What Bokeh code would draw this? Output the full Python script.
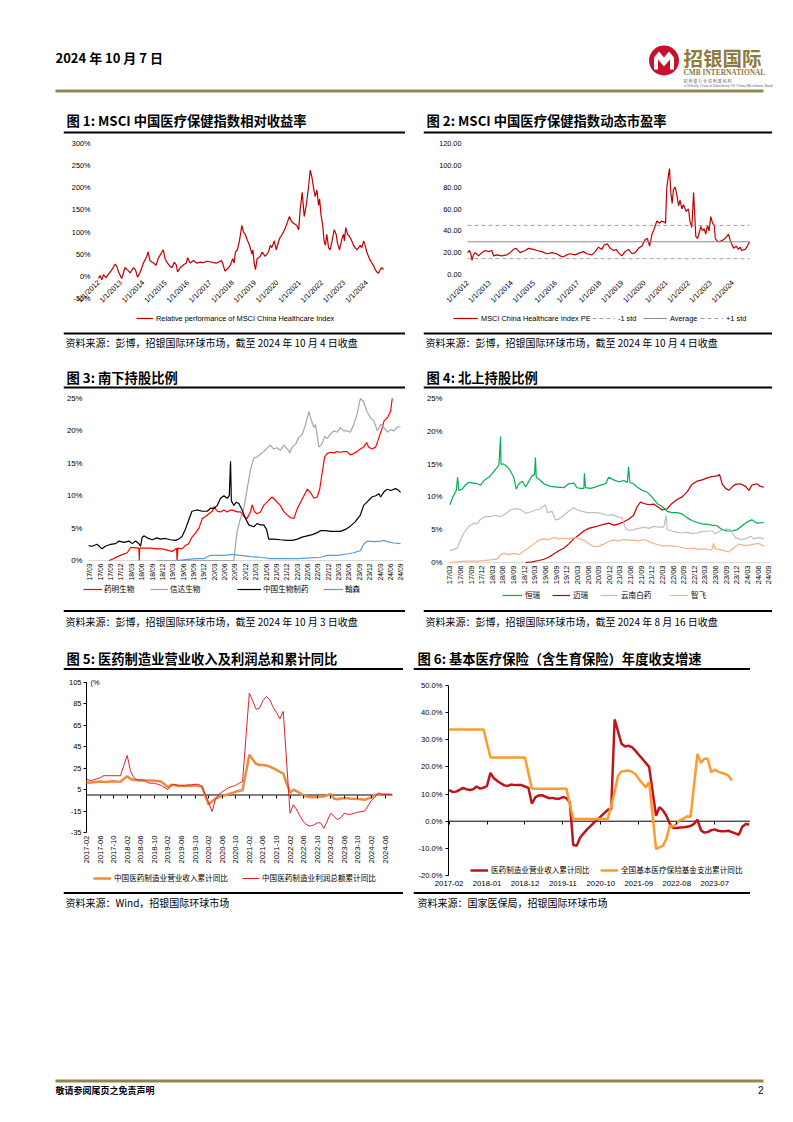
import math
from bokeh.plotting import figure
from bokeh.models import (Range1d, FixedTicker, PrintfTickFormatter, CustomJSTickFormatter,
                          LinearAxis, Legend, LegendItem, Label, Spacer)
from bokeh.layouts import column, row
from bokeh.core.properties import value
from bokeh.embed import file_html
from bokeh.resources import INLINE

CJK = "Noto Sans CJK SC"
LAT = "Liberation Sans"
GOLD = "#8E7A3C"
GOLD_RULE = "#8F8752"

# ---------------- texts ----------------
DATE_TEXT = "2024 年 10 月 7 日"
TITLES = ["图 1: MSCI 中国医疗保健指数相对收益率",
          "图 2: MSCI 中国医疗保健指数动态市盈率",
          "图 3: 南下持股比例",
          "图 4: 北上持股比例",
          "图 5: 医药制造业营业收入及利润总和累计同比",
          "图 6: 基本医疗保险（含生育保险）年度收支增速"]
SOURCES = ["资料来源：彭博，招银国际环球市场，截至 2024 年 10 月 4 日收盘",
           "资料来源：彭博，招银国际环球市场，截至 2024 年 10 月 4 日收盘",
           "资料来源：彭博，招银国际环球市场，截至 2024 年 10 月 3 日收盘",
           "资料来源：彭博，招银国际环球市场，截至 2024 年 8 月 16 日收盘",
           "资料来源：Wind，招银国际环球市场",
           "资料来源：国家医保局，招银国际环球市场"]
FOOTER_TEXT = "敬请参阅尾页之免责声明"
PAGE_NO = "2"

# ---------------- chart 1: relative performance (decimal year, %) ----------------
c1_label = "Relative performance of MSCI China Healthcare Index"
c1 = [(2012.00,-5),(2012.07,2),(2012.15,-8),(2012.22,4),(2012.34,-3),(2012.45,5),(2012.60,15),(2012.75,28),
      (2012.82,22),(2012.90,10),(2013.04,-5),(2013.19,20),(2013.31,14),(2013.42,8),(2013.57,20),(2013.66,14),
      (2013.75,-2),(2013.87,10),(2014.01,30),(2014.16,45),(2014.22,55),(2014.31,35),(2014.46,30),(2014.58,25),
      (2014.67,40),(2014.84,55),(2014.90,60),(2014.99,38),(2015.09,30),(2015.21,22),(2015.30,20),(2015.39,32),
      (2015.48,26),(2015.54,10),(2015.66,20),(2015.81,26),(2015.93,30),(2015.99,42),(2016.10,30),(2016.25,36),
      (2016.40,30),(2016.55,32),(2016.70,31),(2016.85,34),(2017.00,33),(2017.15,31),(2017.30,30),(2017.45,34),
      (2017.51,36),(2017.57,28),(2017.66,12),(2017.78,17),(2017.90,25),(2018.01,40),(2018.07,30),(2018.13,55),
      (2018.22,60),(2018.31,80),(2018.42,115),(2018.49,100),(2018.57,95),(2018.64,85),(2018.72,75),(2018.79,65),
      (2018.87,50),(2018.91,60),(2018.97,30),(2019.03,15),(2019.10,40),(2019.24,45),(2019.33,55),(2019.46,45),
      (2019.61,55),(2019.69,70),(2019.76,65),(2019.87,80),(2019.96,60),(2020.10,85),(2020.28,100),(2020.37,110),
      (2020.55,135),(2020.63,125),(2020.73,120),(2020.88,115),(2020.96,105),(2021.03,150),(2021.12,190),
      (2021.21,135),(2021.30,160),(2021.40,200),(2021.48,240),(2021.55,225),(2021.63,200),(2021.70,180),
      (2021.78,195),(2021.85,160),(2021.90,175),(2021.96,140),(2022.04,115),(2022.10,80),(2022.16,70),
      (2022.22,95),(2022.30,65),(2022.37,60),(2022.46,80),(2022.55,105),(2022.64,95),(2022.70,75),(2022.79,60),
      (2022.90,85),(2022.97,95),(2023.01,80),(2023.07,110),(2023.15,95),(2023.24,90),(2023.34,80),(2023.42,70),
      (2023.49,65),(2023.57,60),(2023.72,70),(2023.79,65),(2023.87,80),(2023.94,70),(2024.01,55),(2024.13,40),
      (2024.24,30),(2024.31,25),(2024.39,15),(2024.46,10),(2024.54,7),(2024.61,15),(2024.69,20),(2024.76,15)]
c1_yticks = [-50, 0, 50, 100, 150, 200, 250, 300]
c12_xticks = [2012, 2013, 2014, 2015, 2016, 2017, 2018, 2019, 2020, 2021, 2022, 2023, 2024]
c12_xlabels = ["1/1/2012", "1/1/2013", "1/1/2014", "1/1/2015", "1/1/2016", "1/1/2017", "1/1/2018",
               "1/1/2019", "1/1/2020", "1/1/2021", "1/1/2022", "1/1/2023", "1/1/2024"]

# ---------------- chart 2: forward PE ----------------
c2_labels = ["MSCI China Healthcare Index PE", "-1 std", "Average", "+1 std"]
c2 = [(2012.00,20),(2012.09,22),(2012.15,19),(2012.20,13),(2012.27,18),(2012.35,20),(2012.50,17),(2012.65,20),
      (2012.80,22),(2012.95,21),(2013.10,22),(2013.18,17),(2013.33,18),(2013.55,17),(2013.78,18),(2013.93,20),
      (2014.08,23),(2014.20,24),(2014.38,20),(2014.61,22),(2014.76,24),(2014.99,23),(2015.14,22),(2015.36,21),
      (2015.59,19),(2015.82,20),(2016.04,19),(2016.19,17),(2016.34,16),(2016.49,18),(2016.65,19),(2016.87,18),
      (2017.10,20),(2017.25,21),(2017.40,19),(2017.63,18),(2017.78,21),(2017.93,25),(2018.08,23),(2018.18,27),
      (2018.33,28),(2018.46,24),(2018.61,22),(2018.73,23),(2018.83,20),(2018.98,17),(2019.13,21),(2019.29,23),
      (2019.44,19),(2019.59,20),(2019.74,24),(2019.89,26),(2020.04,32),(2020.14,33),(2020.24,26),(2020.35,37),
      (2020.45,42),(2020.57,49),(2020.69,47),(2020.79,49),(2020.90,48),(2020.96,47),(2021.02,80),(2021.10,92),
      (2021.14,97),(2021.20,75),(2021.26,65),(2021.32,78),(2021.40,80),(2021.47,73),(2021.55,63),(2021.62,68),
      (2021.70,60),(2021.77,64),(2021.89,58),(2022.00,60),(2022.07,48),(2022.15,43),(2022.23,75),(2022.27,60),
      (2022.33,35),(2022.41,33),(2022.48,38),(2022.56,44),(2022.63,40),(2022.71,42),(2022.78,37),(2022.86,45),
      (2022.93,40),(2023.01,53),(2023.09,47),(2023.17,45),(2023.21,33),(2023.28,31),(2023.36,30),(2023.51,31),
      (2023.66,33),(2023.81,37),(2023.89,31),(2023.96,28),(2024.04,24),(2024.16,26),(2024.26,23),(2024.34,25),
      (2024.41,22),(2024.56,23),(2024.67,26),(2024.76,30)]
c2_avg = 30.0
c2_std_up = 45.0
c2_std_down = 14.5
c2_yticks = [0, 20, 40, 60, 80, 100, 120]

# ---------------- chart 3: southbound holdings (decimal year, %) ----------------
c3_names = ["药明生物", "信达生物", "中国生物制药", "翰森"]
c3_wuxi = [(2017.63,0.0),(2017.71,0.2),(2017.83,0.6),(2017.95,0.9),(2018.07,1.2),(2018.15,2.0),(2018.23,2.0),
           (2018.35,1.9),(2018.36,0.0),(2018.37,1.9),(2018.51,1.9),(2018.63,1.9),(2018.79,1.8),(2018.91,1.8),
           (2019.03,1.6),(2019.15,1.4),(2019.26,1.9),(2019.27,0.0),(2019.29,1.9),(2019.39,1.8),(2019.47,2.3),
           (2019.55,2.6),(2019.63,3.6),(2019.71,4.2),(2019.80,5.0),(2019.88,6.5),(2019.96,6.8),(2020.04,7.2),
           (2020.12,7.6),(2020.16,8.3),(2020.24,7.6),(2020.32,7.5),(2020.40,7.8),(2020.48,7.5),(2020.56,7.8),
           (2020.64,7.7),(2020.72,7.5),(2020.80,7.5),(2020.88,6.8),(2020.96,6.5),(2021.04,7.5),(2021.08,8.6),
           (2021.14,7.5),(2021.20,7.2),(2021.28,7.5),(2021.36,8.5),(2021.44,9.0),(2021.56,9.8),(2021.64,9.3),
           (2021.76,8.5),(2021.85,7.5),(2021.93,7.0),(2022.01,6.6),(2022.09,6.5),(2022.17,8.0),(2022.25,9.0),
           (2022.33,10.0),(2022.41,11.0),(2022.49,10.5),(2022.57,9.6),(2022.65,9.8),(2022.71,11.0),(2022.77,13.5),
           (2022.83,16.0),(2022.89,16.5),(2022.97,16.7),(2023.05,16.6),(2023.13,16.8),(2023.21,16.7),(2023.29,16.8),
           (2023.37,16.8),(2023.45,16.3),(2023.53,16.5),(2023.61,16.8),(2023.69,17.2),(2023.77,17.5),(2023.84,18.2),
           (2023.89,17.5),(2023.97,17.2),(2024.06,17.5),(2024.14,19.0),(2024.22,20.5),(2024.26,21.5),(2024.34,22.0),
           (2024.42,23.0),(2024.46,25.0)]
c3_innovent = [(2018.79,0.0),(2020.64,0.0),(2020.68,2.5),(2020.72,4.5),(2020.80,6.5),(2020.88,8.0),(2020.96,11.0),
               (2021.04,14.0),(2021.12,15.8),(2021.20,16.0),(2021.28,16.4),(2021.36,16.8),(2021.44,17.3),
               (2021.52,17.8),(2021.60,17.2),(2021.68,17.4),(2021.76,17.0),(2021.85,17.8),(2021.93,17.2),
               (2021.99,16.6),(2022.05,17.5),(2022.13,18.0),(2022.21,19.0),(2022.29,19.5),(2022.37,21.0),
               (2022.45,23.0),(2022.49,22.0),(2022.57,20.5),(2022.61,21.0),(2022.69,17.5),(2022.77,18.0),
               (2022.83,19.2),(2022.89,18.8),(2022.97,19.5),(2023.05,20.0),(2023.13,19.8),(2023.21,20.5),
               (2023.29,20.0),(2023.37,20.0),(2023.45,19.8),(2023.53,21.0),(2023.61,22.5),(2023.69,25.0),
               (2023.77,24.5),(2023.85,23.0),(2023.94,22.0),(2024.02,21.5),(2024.10,20.0),(2024.18,21.0),
               (2024.26,20.5),(2024.34,19.8),(2024.42,20.2),(2024.50,20.0),(2024.58,20.6),(2024.66,20.6)]
c3_sinobio = [(2017.14,2.3),(2017.22,2.2),(2017.34,2.5),(2017.46,1.8),(2017.54,2.2),(2017.67,2.5),(2017.79,2.6),
              (2017.87,3.0),(2017.99,2.8),(2018.11,3.0),(2018.19,2.6),(2018.27,3.0),(2018.35,2.6),(2018.39,2.2),
              (2018.43,3.6),(2018.48,3.8),(2018.55,3.5),(2018.67,3.2),(2018.79,3.5),(2018.87,3.3),(2018.99,3.4),
              (2019.11,3.2),(2019.23,3.1),(2019.31,3.3),(2019.39,3.7),(2019.47,4.8),(2019.55,6.2),(2019.63,7.6),
              (2019.75,7.8),(2019.88,7.6),(2020.00,7.6),(2020.08,8.1),(2020.16,8.0),(2020.24,8.5),(2020.32,9.6),
              (2020.40,10.0),(2020.48,9.6),(2020.53,10.0),(2020.56,15.3),(2020.58,9.2),(2020.64,8.5),(2020.70,9.0),
              (2020.76,8.8),(2020.84,7.8),(2020.92,6.5),(2021.00,5.5),(2021.12,5.2),(2021.20,5.7),(2021.28,5.5),
              (2021.36,5.5),(2021.43,4.8),(2021.48,3.3),(2021.60,3.3),(2021.76,3.2),(2021.93,3.1),(2022.05,3.1),
              (2022.17,3.3),(2022.29,3.6),(2022.41,3.8),(2022.53,4.0),(2022.65,4.3),(2022.73,4.6),(2022.85,4.6),
              (2022.97,4.5),(2023.09,4.5),(2023.21,4.5),(2023.33,4.8),(2023.45,5.3),(2023.57,6.0),(2023.69,7.0),
              (2023.77,8.5),(2023.85,9.0),(2023.97,9.8),(2024.06,10.0),(2024.14,10.3),(2024.18,9.8),(2024.26,10.6),
              (2024.34,11.0),(2024.42,10.8),(2024.54,11.1),(2024.62,10.8),(2024.66,10.5)]
c3_hansoh = [(2019.27,0.0),(2019.43,0.1),(2019.59,0.2),(2019.75,0.3),(2019.92,0.3),(2020.08,0.8),(2020.24,0.8),
             (2020.40,0.8),(2020.56,0.9),(2020.64,0.9),(2020.80,0.8),(2021.04,0.6),(2021.28,0.5),(2021.52,0.3),
             (2021.85,0.3),(2022.17,0.3),(2022.49,0.4),(2022.73,0.5),(2022.89,0.8),(2023.13,0.8),(2023.37,1.0),
             (2023.53,1.2),(2023.69,1.5),(2023.77,2.5),(2023.85,3.0),(2024.02,2.9),(2024.18,3.0),(2024.26,3.1),
             (2024.34,2.9),(2024.50,2.7),(2024.66,2.6)]

# ---------------- chart 4: northbound holdings ----------------
c4_names = ["恒瑞", "迈瑞", "云南白药", "智飞"]
c4_hengrui = [(2017.17,8.8),(2017.24,10.0),(2017.32,11.0),(2017.35,13.0),(2017.38,11.0),(2017.46,11.2),
              (2017.53,11.8),(2017.61,12.2),(2017.73,12.1),(2017.81,12.0),(2017.89,11.8),(2017.97,12.5),
              (2018.08,13.0),(2018.16,13.5),(2018.24,14.2),(2018.32,14.8),(2018.36,19.2),(2018.37,15.0),
              (2018.44,15.0),(2018.51,14.6),(2018.59,14.0),(2018.67,13.0),(2018.73,11.2),(2018.79,12.0),
              (2018.87,12.4),(2018.95,11.5),(2019.02,12.3),(2019.10,13.2),(2019.16,13.4),(2019.18,16.0),
              (2019.20,13.0),(2019.30,12.5),(2019.38,12.0),(2019.46,11.8),(2019.53,11.6),(2019.69,11.5),
              (2019.85,11.4),(2019.96,12.0),(2020.08,12.1),(2020.16,11.4),(2020.24,11.3),(2020.32,11.3),
              (2020.33,13.6),(2020.36,11.4),(2020.47,11.3),(2020.59,11.5),(2020.71,11.8),(2020.83,12.0),
              (2020.90,13.0),(2021.02,12.6),(2021.14,12.3),(2021.26,12.5),(2021.34,12.2),(2021.37,14.6),
              (2021.40,12.2),(2021.49,12.0),(2021.57,11.5),(2021.69,11.0),(2021.81,10.7),(2021.92,10.0),
              (2022.04,9.0),(2022.16,8.5),(2022.28,7.8),(2022.39,7.6),(2022.51,7.6),(2022.63,7.4),(2022.75,6.8),
              (2022.86,6.4),(2022.98,6.1),(2023.10,5.9),(2023.22,5.8),(2023.33,5.7),(2023.45,5.6),(2023.57,5.0),
              (2023.69,4.8),(2023.80,4.8),(2023.92,5.0),(2024.04,5.6),(2024.16,6.2),(2024.27,6.5),(2024.39,6.0),
              (2024.55,6.1)]
c4_mindray = [(2018.95,0.0),(2019.10,0.1),(2019.26,0.3),(2019.38,0.5),(2019.49,0.8),(2019.61,1.3),(2019.73,1.8),
              (2019.85,2.2),(2019.96,2.8),(2020.08,3.6),(2020.20,4.2),(2020.32,4.8),(2020.43,5.2),(2020.55,5.4),
              (2020.67,5.6),(2020.79,5.8),(2020.90,6.0),(2021.02,5.7),(2021.14,5.9),(2021.26,6.2),(2021.37,6.6),
              (2021.49,7.2),(2021.57,8.5),(2021.65,9.2),(2021.73,9.0),(2021.85,8.8),(2021.96,8.9),(2022.08,8.4),
              (2022.16,8.0),(2022.28,8.2),(2022.39,9.0),(2022.51,9.6),(2022.63,10.0),(2022.75,10.8),(2022.86,11.9),
              (2022.98,12.4),(2023.10,12.6),(2023.22,12.9),(2023.33,13.1),(2023.45,13.2),(2023.51,13.4),
              (2023.57,12.0),(2023.65,11.3),(2023.73,11.0),(2023.80,11.5),(2023.88,11.9),(2024.00,12.0),
              (2024.12,11.6),(2024.20,11.0),(2024.27,11.8),(2024.39,12.0),(2024.47,11.6),(2024.55,11.5)]
c4_baiyao = [(2017.17,1.8),(2017.26,2.0),(2017.34,2.2),(2017.42,3.5),(2017.50,4.5),(2017.61,5.5),(2017.73,6.0),
             (2017.81,5.9),(2017.89,6.6),(2018.01,7.0),(2018.12,7.0),(2018.24,7.2),(2018.36,7.0),(2018.48,7.4),
             (2018.59,8.0),(2018.71,8.2),(2018.83,8.1),(2018.95,7.5),(2019.06,7.7),(2019.18,8.0),(2019.30,8.2),
             (2019.42,8.8),(2019.46,7.6),(2019.57,7.8),(2019.65,6.5),(2019.73,6.6),(2019.85,7.2),(2019.96,7.8),
             (2020.08,8.4),(2020.16,8.0),(2020.28,7.8),(2020.40,7.6),(2020.51,7.6),(2020.63,7.6),(2020.75,7.4),
             (2020.87,7.2),(2020.98,7.3),(2021.10,7.0),(2021.22,6.8),(2021.30,5.2),(2021.37,4.9),(2021.49,5.0),
             (2021.61,5.2),(2021.73,5.4),(2021.85,5.2),(2021.96,5.5),(2022.08,5.4),(2022.20,5.4),(2022.25,7.2),
             (2022.28,5.0),(2022.39,4.8),(2022.51,4.6),(2022.63,4.5),(2022.75,4.6),(2022.86,4.4),(2022.98,4.5),
             (2023.10,4.7),(2023.22,4.8),(2023.33,4.8),(2023.41,4.4),(2023.53,4.8),(2023.65,5.1),(2023.77,5.0),
             (2023.88,3.8),(2024.00,3.5),(2024.12,3.6),(2024.24,4.0),(2024.31,3.6),(2024.43,3.8),(2024.55,3.6)]
c4_zhifei = [(2017.17,0.0),(2017.34,0.1),(2017.50,0.2),(2017.65,0.2),(2017.81,0.2),(2017.97,0.3),(2018.12,0.4),
             (2018.28,0.5),(2018.36,1.2),(2018.44,1.4),(2018.55,1.2),(2018.67,1.4),(2018.79,1.2),(2018.91,1.8),
             (2019.02,2.2),(2019.14,2.8),(2019.26,3.4),(2019.38,3.6),(2019.49,3.5),(2019.61,3.8),(2019.73,3.6),
             (2019.85,3.7),(2019.96,3.6),(2020.08,3.8),(2020.20,3.7),(2020.32,3.4),(2020.43,2.9),(2020.55,2.4),
             (2020.67,2.5),(2020.79,2.8),(2020.90,3.2),(2021.02,3.4),(2021.14,3.3),(2021.26,3.5),(2021.37,3.4),
             (2021.49,3.4),(2021.61,3.3),(2021.73,3.5),(2021.85,3.2),(2021.96,2.9),(2022.08,2.7),(2022.20,2.5),
             (2022.32,2.6),(2022.43,2.5),(2022.55,2.4),(2022.67,2.2),(2022.79,2.1),(2022.90,2.2),(2023.02,2.0),
             (2023.14,2.1),(2023.26,1.9),(2023.33,2.0),(2023.37,2.9),(2023.40,2.1),(2023.49,2.0),(2023.61,1.8),
             (2023.73,1.6),(2023.84,2.2),(2023.96,2.8),(2024.08,2.6),(2024.20,2.6),(2024.31,2.8),(2024.43,2.9),
             (2024.55,2.5)]
c34_yticks = [0, 5, 10, 15, 20, 25]
c34_quarters = [(y, m) for y in range(2017, 2025) for m in (3, 6, 9, 12) if (y, m) <= (2024, 9)]
c34_xlabels = [f"{y % 100:02d}/{m:02d}" for (y, m) in c34_quarters]

# ---------------- chart 5: pharma manufacturing, cumulative YoY (%) ----------------
c5_names = ["中国医药制造业营业收入累计同比", "中国医药制造业利润总额累计同比"]
c5_months = [f"{y}-{m:02d}" for y in range(2017, 2025) for m in range(2, 13)][:84]
c5_revenue = [12.0, 11.5, 11.8, 12.2, 12.5, 12.3, 12.2, 12.5, 12.8, 12.5, 12.3,
              17.5, 15.0, 14.0, 13.8, 13.5, 13.5, 13.5, 13.5, 13.3, 13.0, 12.5,
              7.5, 9.5, 9.0, 8.5, 8.5, 8.5, 8.5, 8.5, 8.8, 8.5, 8.0,
              -9.0, -6.0, -3.5, -2.0, -1.0, 0.0, 1.0, 2.0, 3.0, 4.0, 4.5,
              37.5, 33.0, 29.0, 28.0, 28.0, 27.5, 26.5, 25.0, 23.5, 21.5, 20.0,
              2.0, 5.0, 3.5, 1.5, -0.5, -1.5, -2.0, -2.0, -1.8, -1.5, -1.5,
              1.0, -3.5, -4.0, -3.3, -3.0, -3.0, -3.5, -3.5, -3.8, -4.0, -4.5,
              -2.0, 0.0, 0.5, 0.5, 0.5, 0.5, 0.3]
c5_profit = [15.0, 13.5, 14.0, 15.0, 16.0, 18.0, 18.0, 18.0, 18.0, 18.0, 18.0,
             37.0, 22.0, 16.0, 14.0, 14.0, 14.0, 11.5, 11.0, 11.0, 10.0, 9.0,
             5.0, 9.0, 10.0, 9.0, 9.0, 9.0, 9.5, 9.5, 10.0, 10.0, 8.0,
             -7.0, -15.5, -4.0, 0.5, 3.0, 5.0, 7.0, 8.0, 9.0, 11.0, 12.5,
             95.0, 88.0, 80.0, 81.0, 88.0, 92.0, 89.0, 82.0, 77.0, 71.0, 78.0,
             -17.0, -9.0, -14.0, -20.0, -25.0, -28.0, -29.0, -28.0, -26.0, -26.0, -31.0,
             -17.0, -20.0, -23.0, -21.0, -17.0, -18.0, -18.0, -17.0, -16.0, -15.5, -15.0,
             -5.0, -2.0, 2.0, 0.5, 0.5, 0.5, 0.5]
c5_yticks = [-35, -15, 5, 25, 45, 65, 85, 105]
c5_unit = "(%"


def month_seq(start, n):
    y, m = map(int, start.split("-"))
    out = []
    for _ in range(n):
        out.append(f"{y}-{m:02d}")
        m += 1
        if m > 12:
            m, y = 1, y + 1
    return out


c5_xlabels = month_seq("2017-02", 89)[::4]

# ---------------- chart 6: medical insurance ----------------
c6_names = ["医药制造业营业收入累计同比", "全国基本医疗保险基金支出累计同比"]
c6_revenue = [11.5, 10.8, 10.9, 11.5, 12.3, 11.8, 11.5, 11.8, 12.8, 12.0, 12.3,
              13.0, 17.8, 15.8, 14.8, 14.0, 13.2, 13.0, 13.5, 13.3, 13.3, 13.3, 12.8,
              12.3, 6.5, 8.8, 9.5, 9.6, 9.0, 8.5, 8.6, 8.3, 8.3, 8.9, 8.5,
              7.0, -8.8, -9.0, -6.0, -4.5, -3.0, -1.8, -0.5, 0.5, 1.8, 3.0, 4.2,
              4.5, 37.5, 33.0, 28.5, 27.5, 27.8, 27.3, 26.0, 24.5, 23.0, 21.5, 20.0,
              11.0, 2.0, 5.2, 4.0, 2.0, -1.0, -2.5, -2.5, -2.3, -2.2, -2.0, -1.8,
              -1.0, 0.6, -3.3, -4.2, -4.0, -3.3, -3.0, -3.5, -3.7, -3.7, -3.5, -4.0,
              -4.5, -5.0, -2.0, -1.0, -1.2]
c6_months = month_seq("2017-02", len(c6_revenue))
c6_fund = [("2017-02", 33.8), ("2017-12", 33.8), ("2018-02", 23.5), ("2018-12", 23.5), ("2019-02", 12.0),
           ("2019-12", 12.0), ("2020-02", 0.8), ("2020-12", 0.8), ("2021-02", 10.7), ("2021-03", 16.8),
           ("2021-04", 18.3), ("2021-05", 18.5), ("2021-06", 18.7), ("2021-07", 18.2), ("2021-08", 17.4),
           ("2021-09", 15.6), ("2021-10", 14.0), ("2021-11", 12.5), ("2021-12", 14.4), ("2022-02", -10.2),
           ("2022-03", -9.6), ("2022-04", -9.0), ("2022-05", -6.5), ("2022-06", -1.6), ("2022-07", -2.0),
           ("2022-08", -0.8), ("2022-09", 0.5), ("2022-10", 0.9), ("2022-11", 1.8), ("2022-12", 1.5),
           ("2023-02", 24.8), ("2023-03", 21.5), ("2023-04", 23.0), ("2023-05", 23.0), ("2023-06", 18.0),
           ("2023-07", 19.0), ("2023-08", 18.3), ("2023-09", 17.8), ("2023-10", 17.4), ("2023-11", 16.8),
           ("2023-12", 15.0)]
c6_yticks = [-20, -10, 0, 10, 20, 30, 40, 50]
c6_xlabels = month_seq("2017-02", 78)[::11]


# ---------------- helpers ----------------
def dec_year(s):
    y, m = s.split("-")
    return int(y) + (int(m) - 1) / 12.0


def unzip(pairs):
    return [p[0] for p in pairs], [p[1] for p in pairs]


def blank_fig(w, h):
    p = figure(width=w, height=h, x_range=Range1d(0, w), y_range=Range1d(h, 0),
               output_backend="svg", toolbar_location=None, x_axis_type=None, y_axis_type=None,
               min_border=0, min_border_left=0, min_border_right=0, min_border_top=0, min_border_bottom=0)
    p.outline_line_color = None
    return p


def title_fig(w, h, text, text_x, text_y, rule_y):
    p = blank_fig(w, h)
    p.text(x=[text_x], y=[text_y], text=[text], text_font=value(CJK), text_font_style="bold",
           text_font_size="13.3px", text_baseline="middle", text_align="left", text_color="black")
    p.quad(left=[0], right=[w], top=[rule_y], bottom=[rule_y + 2], fill_color="black", line_color=None)
    return p


def source_fig(w, h, text, text_x, text_y, rule_y):
    p = blank_fig(w, h)
    p.quad(left=[0], right=[w], top=[rule_y], bottom=[rule_y + 2], fill_color="black", line_color=None)
    p.text(x=[text_x], y=[text_y], text=[text], text_font=value(CJK), text_font_size="10px",
           text_baseline="middle", text_align="left", text_color="black")
    return p


def chart_fig(w, h, x0, x1, y0, y1, L, R, T, B):
    """Frame covers the whole figure; data box [x0,x1]x[y0,y1] sits L,R,T,B px inside it."""
    sx = (w - L - R) / (x1 - x0)
    sy = (h - T - B) / (y1 - y0)
    p = figure(width=w, height=h, x_range=Range1d(x0 - L / sx, x1 + R / sx),
               y_range=Range1d(y0 - B / sy, y1 + T / sy), output_backend="svg", toolbar_location=None,
               min_border=0, min_border_left=0, min_border_right=0, min_border_top=0, min_border_bottom=0)
    p.outline_line_color = None
    p.xgrid.visible = False
    p.ygrid.visible = False
    return p


def style_y(ax, ticks, fmt, size, standoff, loc, tick_out=0):
    ax.ticker = FixedTicker(ticks=ticks)
    ax.formatter = PrintfTickFormatter(format=fmt)
    ax.fixed_location = loc
    ax.major_label_text_font = LAT
    ax.major_label_text_font_size = size
    ax.major_label_text_color = "black"
    ax.major_label_standoff = standoff
    ax.major_tick_out = tick_out
    ax.major_tick_in = 0
    ax.minor_tick_out = 0
    ax.minor_tick_in = 0
    ax.axis_line_color = None
    ax.major_tick_line_color = "black" if tick_out else None


def label_formatter(tv, tl):
    return CustomJSTickFormatter(args=dict(tv=tv, tl=tl), code="""
        for (let i = 0; i < tv.length; i++) { if (Math.abs(tv[i] - tick) < 1e-6) return tl[i]; }
        return "";
    """)


def style_x(ax, tv, tl, orient, loc, size, standoff, tick_out=0):
    ax.ticker = FixedTicker(ticks=tv)
    ax.formatter = label_formatter(tv, tl)
    ax.major_label_orientation = orient
    ax.fixed_location = loc
    ax.major_label_text_font = LAT
    ax.major_label_text_font_size = size
    ax.major_label_text_color = "black"
    ax.major_label_standoff = standoff
    ax.major_tick_out = tick_out
    ax.major_tick_in = 0
    ax.minor_tick_out = 0
    ax.minor_tick_in = 0
    ax.axis_line_color = None
    ax.major_tick_line_color = "black" if tick_out else None


def add_item(p, rend, label, x, y, glyph_w, font, size, standoff=3):
    lg = Legend(items=[LegendItem(label=label, renderers=[rend])], location=(x, y),
                orientation="horizontal", background_fill_alpha=0, border_line_color=None,
                padding=0, margin=0, spacing=0, glyph_width=glyph_w, glyph_height=10, label_height=10,
                label_standoff=standoff, label_text_font=font, label_text_font_size=size,
                label_text_color="black")
    p.add_layout(lg)


# ---------------- header (page coordinates) ----------------
hdr = blank_fig(793, 103)
hdr.text(x=[55], y=[57], text=[DATE_TEXT], text_font=value(CJK), text_font_style="bold",
         text_font_size="13px", text_baseline="middle", text_align="left", text_color="black")
cx, cy, cr = 663.5, 60, 15
hdr.circle(x=[cx], y=[cy], radius=cr, fill_color="#C8102E", line_color=None)
m_dx = [-10, -10, -5, 0, 5, 10, 10, 6, 6, 0, -6, -6]
m_dy = [9, -3, -9, -3, -9, -3, 9, 9, -1, 6, -1, 9]
hdr.patch(x=[cx + d for d in m_dx], y=[cy + d for d in m_dy], fill_color="white", line_color=None)
hdr.text(x=[683], y=[57], text=["招银国际"], text_font=value(CJK), text_font_style="bold",
         text_font_size="19.5px", text_baseline="middle", text_align="left", text_color=GOLD)
hdr.text(x=[683], y=[72], text=["CMB INTERNATIONAL"], text_font=value("Liberation Serif"),
         text_font_style="bold", text_font_size="7.4px", text_baseline="middle", text_color=GOLD)
hdr.text(x=[683], y=[80], text=["招 商 银 行 全 资 附 属 机 构"], text_font=value(CJK),
         text_font_size="4px", text_baseline="middle", text_color="#666666")
hdr.text(x=[683], y=[85], text=["A Wholly Owned Subsidiary Of China Merchants Bank"],
         text_font=value("Liberation Serif"), text_font_size="4px", text_baseline="middle", text_color="#666666")
hdr.quad(left=[55], right=[763], top=[89], bottom=[92], fill_color=GOLD_RULE, line_color=None)

# ---------------- chart 1 ----------------
t1, v1 = unzip(c1)
p1 = chart_fig(342, 197, t1[0], t1[-1], -50, 300, 35, 22, 9, 33)
r1 = p1.line(t1, v1, line_color="#C00000", line_width=1.2)
style_y(p1.yaxis[0], c1_yticks, "%d%%", "7.3px", 8, t1[0])
style_x(p1.xaxis[0], c12_xticks, c12_xlabels, math.pi / 4, 0, "7.3px", 5)
add_item(p1, r1, c1_label, 73, 8, 17, LAT, "7.4px", 3)

# ---------------- chart 2 ----------------
t2, v2 = unzip(c2)
p2 = chart_fig(349, 197, t2[0], t2[-1], 0, 120, 44, 23, 9, 57)
r2 = p2.line(t2, v2, line_color="#C00000", line_width=1.2)
r2_dn = p2.line([t2[0], t2[-1]], [c2_std_down, c2_std_down], line_color="#A0A0A0", line_width=1, line_dash="4 3")
r2_av = p2.line([t2[0], t2[-1]], [c2_avg, c2_avg], line_color="#8C8C8C", line_width=1)
r2_up = p2.line([t2[0], t2[-1]], [c2_std_up, c2_std_up], line_color="#A0A0A0", line_width=1, line_dash="4 3")
style_y(p2.yaxis[0], c2_yticks, "%.2f", "7.3px", 6, t2[0])
style_x(p2.xaxis[0], c12_xticks, c12_xlabels, math.pi / 4, 0, "7.3px", 7)
for rend, lab, x, gw in [(r2, c2_labels[0], 30, 25), (r2_dn, c2_labels[1], 169, 23),
                         (r2_av, c2_labels[2], 220, 24), (r2_up, c2_labels[3], 277, 23)]:
    add_item(p2, rend, lab, x, 8, gw, LAT, "7.4px", 3)

# ---------------- chart 3 ----------------
q_ticks = [y + (m - 1) / 12.0 for (y, m) in c34_quarters]
x3a, x3b = 2017.135, 2024.731
p3 = chart_fig(342, 220, x3a, x3b, 0, 25, 25, 2, 9, 49)
p3.line([x3a, x3b], [0, 0], line_color="#D9D9D9", line_width=1)
c3_colors = ["#FF0000", "#A6A6A6", "#000000", "#5B9BD5"]
r3 = []
for series, col in zip([c3_wuxi, c3_innovent, c3_sinobio, c3_hansoh], c3_colors):
    tx, vv = unzip(series)
    r3.append(p3.line(tx, vv, line_color=col, line_width=1.2))
style_y(p3.yaxis[0], c34_yticks, "%d%%", "7.8px", 6, x3a)
style_x(p3.xaxis[0], q_ticks, c34_xlabels, math.pi / 2, 0, "6.8px", 3)
for rend, lab, x, gw in zip(r3, c3_names, [20, 87, 174, 260], [19, 18, 24, 20]):
    add_item(p3, rend, lab, x, 15, gw, CJK, "7.6px", 2)

# ---------------- chart 4 ----------------
x4a, x4b = 2017.136, 2024.707
p4 = chart_fig(349, 220, x4a, x4b, 0, 25, 25, 2, 9, 47)
p4.line([x4a, x4b], [0, 0], line_color="#D9D9D9", line_width=1)
c4_colors = ["#00B050", "#C00000", "#BFBFBF", "#F4B183"]
r4 = []
for series, col in zip([c4_hengrui, c4_mindray, c4_baiyao, c4_zhifei], c4_colors):
    tx, vv = unzip(series)
    r4.append(p4.line(tx, vv, line_color=col, line_width=1.2))
style_y(p4.yaxis[0], c34_yticks, "%d%%", "7.8px", 6, x4a)
style_x(p4.xaxis[0], q_ticks, c34_xlabels, math.pi / 2, 0, "7.5px", 3)
for rend, lab, x, gw in zip(r4, c4_names, [79, 129, 177, 247], [20, 18, 18, 18]):
    add_item(p4, rend, lab, x, 9, gw, CJK, "7.6px", 3)

# ---------------- chart 5 ----------------
m5 = [dec_year(s) for s in c5_months]
t5_ticks = [dec_year(s) for s in c5_xlabels]
x5a, x5b = 2017 + 1 / 12.0, 2024.60
p5 = chart_fig(340, 221, x5a, x5b, -35, 105, 23, 11, 12, 59)
p5.line([x5a, x5a], [-35, 105], line_color="black", line_width=1)
p5.line([x5a, x5b], [0, 0], line_color="black", line_width=1)
r5a = p5.line(m5, c5_revenue, line_color="#F08A3C", line_width=2.5)
r5b = p5.line(m5, c5_profit, line_color="#D9252B", line_width=1)
style_y(p5.yaxis[0], c5_yticks, "%d", "7.5px", 2, x5a, tick_out=3)
style_x(p5.xaxis[0], t5_ticks, c5_xlabels, math.pi / 2, -35, "7.6px", 3)
zero5 = LinearAxis()
style_x(zero5, t5_ticks, c5_xlabels, "horizontal", 0, "7.6px", 3, tick_out=3)
zero5.major_label_text_color = None
p5.add_layout(zero5, "below")
p5.add_layout(Label(x=x5a, y=105, x_offset=4, text=c5_unit, text_font=LAT,
                    text_font_size="7.5px", text_baseline="middle", text_color="black"))
add_item(p5, r5a, c5_names[0], 30, 8, 18, CJK, "7.6px", 3)
add_item(p5, r5b, c5_names[1], 179, 8, 17, CJK, "7.6px", 3)

# ---------------- chart 6 ----------------
m6 = [dec_year(s) for s in c6_months]
f6_t = [dec_year(s) for s, _ in c6_fund]
f6_v = [v for _, v in c6_fund]
t6_ticks = [dec_year(s) for s in c6_xlabels]
x6a, x6b = 2017.07, 2024.365
p6 = chart_fig(337, 221, x6a, x6b, -20, 50, 35, 0, 15, 16)
p6.line([x6a, x6a], [-20, 50], line_color="black", line_width=1)
p6.line([x6a, x6b], [0, 0], line_color="black", line_width=1)
r6a = p6.line(m6, c6_revenue, line_color="#C0141C", line_width=2.5)
r6b = p6.line(f6_t, f6_v, line_color="#FF9A2E", line_width=2.5)
style_y(p6.yaxis[0], c6_yticks, "%.1f%%", "7.6px", 3, x6a, tick_out=3)
style_x(p6.xaxis[0], t6_ticks, c6_xlabels, "horizontal", -20, "7.8px", 5)
zero6 = LinearAxis()
style_x(zero6, t6_ticks, c6_xlabels, "horizontal", 0, "7.8px", 3, tick_out=3)
zero6.major_label_text_color = None
p6.add_layout(zero6, "below")
add_item(p6, r6a, c6_names[0], 57, 16, 18, CJK, "7.6px", 3)
add_item(p6, r6b, c6_names[1], 187, 16, 18, CJK, "7.6px", 3)

# ---------------- panels & layout ----------------
t_1 = title_fig(342, 26, TITLES[0], 3, 12, 23)
t_2 = title_fig(349, 26, TITLES[1], 3, 12, 23)
s_1 = source_fig(342, 21, SOURCES[0], 2, 11, 1)
s_2 = source_fig(349, 21, SOURCES[1], 2, 11, 1)

t_3 = title_fig(342, 24, TITLES[2], 3, 12, 21)
t_4 = title_fig(349, 24, TITLES[3], 3, 12, 21)
s_3 = source_fig(342, 22, SOURCES[2], 2, 12, 0.5)
s_4 = source_fig(349, 22, SOURCES[3], 2, 12, 0.5)

t_5 = title_fig(340, 24, TITLES[4], 3, 12, 21.5)
t_6 = title_fig(337, 24, TITLES[5], 4, 12, 21.5)
s_5 = source_fig(340, 21, SOURCES[4], 2, 11, 0.5)
s_6 = source_fig(337, 21, SOURCES[5], 4, 11, 0.5)

foot = blank_fig(793, 30)
foot.quad(left=[55], right=[763], top=[9], bottom=[12], fill_color=GOLD_RULE, line_color=None)
foot.text(x=[55], y=[20], text=[FOOTER_TEXT], text_font=value(CJK), text_font_style="bold",
          text_font_size="9px", text_baseline="middle", text_align="left", text_color="black")
foot.text(x=[763], y=[19], text=[PAGE_NO], text_font=value(LAT), text_font_size="10px",
          text_baseline="middle", text_align="right", text_color="black")

row1 = row(Spacer(width=63, height=10), column(t_1, p1, s_1), Spacer(width=18, height=10), column(t_2, p2, s_2))
row2 = row(Spacer(width=63, height=10), column(t_3, p3, s_3), Spacer(width=18, height=10), column(t_4, p4, s_4))
row3 = row(Spacer(width=63, height=10), column(t_5, p5, s_5), Spacer(width=10, height=10), column(t_6, p6, s_6))

page = column(hdr, Spacer(width=10, height=5), row1, Spacer(width=10, height=13), row2,
              Spacer(width=10, height=15), row3, Spacer(width=10, height=158), foot)

open("out.html", "w").write(file_html(page, INLINE, "CMBI report page"))
